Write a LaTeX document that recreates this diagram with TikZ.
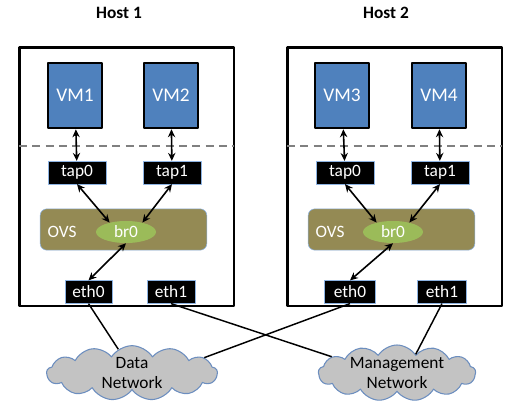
\documentclass[tikz,border=0pt]{standalone}
\usepackage{fontspec}
\setmainfont{Carlito}
\usetikzlibrary{shapes.geometric,shapes.symbols,arrows.meta}

\definecolor{vmblue}{HTML}{4F81BD}
\definecolor{ovsolive}{HTML}{948A54}
\definecolor{brgreen}{HTML}{9BBB59}
\definecolor{cloudgray}{HTML}{C3C3C3}
\definecolor{cloudblue}{HTML}{6C8EBF}
\definecolor{edgeblue}{HTML}{8DB3E2}

\tikzset{
  hostbox/.style={draw, line width=2pt, minimum width=161pt, minimum height=194pt},
  hostlbl/.style={font=\fontsize{13}{15}\selectfont\bfseries},
  vmbox/.style={draw, line width=1.6pt, fill=vmblue, text=white, minimum width=41pt, minimum height=49pt, font=\fontsize{14.5}{16}\selectfont},
  portbox/.style={draw=edgeblue, fill=black, text=white, minimum height=17pt, inner sep=1pt},
  ovsbar/.style={draw=edgeblue, fill=ovsolive, rounded corners=5pt, minimum width=125pt, minimum height=31pt},
  brnode/.style={ellipse, fill=brgreen, text=white, minimum width=45pt, minimum height=16.5pt, inner sep=0pt},
  netcloud/.style={cloud, cloud puffs=13, cloud puff arc=115, cloud ignores aspect, draw=cloudblue, line width=0.8pt, fill=cloudgray, inner sep=0pt},
  dbl/.style={{Stealth[length=6pt,width=5.5pt]}-{Stealth[length=6pt,width=5.5pt]}, line width=1.2pt},
  sep/.style={dashed, dash pattern=on 6pt off 4pt, draw=gray, line width=1.5pt},
  wire/.style={line width=1.1pt}
}

\begin{document}
\begin{tikzpicture}[x=0.75pt, y=-0.75pt, font=\fontsize{13}{15}\selectfont, line join=round]
\useasboundingbox (0,0) rectangle (515,415);

% Host 1
\node[hostlbl] (h1lbl) at (119,13) {Host 1};
\node[hostbox] (h1) at (126.5,176.5) {};
\node[vmbox] (vm1) at (75,95.5) {VM1};
\node[vmbox] (vm2) at (171,95.5) {VM2};
\draw[sep] (19,146) -- (234,146);
\node[portbox, minimum width=43.5pt] (h1tap0) at (77,172.5) {tap0};
\node[portbox, minimum width=43.5pt] (h1tap1) at (172,172.5) {tap1};
\node[ovsbar] (h1ovs) at (123.5,229.5) {};
\node[text=white] (h1ovslbl) at (62,232) {OVS};
\node[brnode] (h1br0) at (126,232) {br0};
\node[portbox, minimum width=35pt] (h1eth0) at (88.5,292) {eth0};
\node[portbox, minimum width=36pt] (h1eth1) at (171,292) {eth1};

% Host 2
\node[hostlbl] (h2lbl) at (386,13) {Host 2};
\node[hostbox] (h2) at (394.5,176.5) {};
\node[vmbox] (vm3) at (342,95.5) {VM3};
\node[vmbox] (vm4) at (439,95.5) {VM4};
\draw[sep] (287,146) -- (502,146);
\node[portbox, minimum width=43.5pt] (h2tap0) at (345,172.5) {tap0};
\node[portbox, minimum width=43.5pt] (h2tap1) at (440,172.5) {tap1};
\node[ovsbar] (h2ovs) at (391.5,229.5) {};
\node[text=white] (h2ovslbl) at (330,232) {OVS};
\node[brnode] (h2br0) at (393,232) {br0};
\node[portbox, minimum width=38pt] (h2eth0) at (350,292) {eth0};
\node[portbox, minimum width=37pt] (h2eth1) at (442,292) {eth1};

% Networks
\node[netcloud, minimum width=128pt, minimum height=41pt] (data) at (132,373) {};
\node[align=center] (datalbl) at (132,373) {Data\\Network};
\node[netcloud, minimum width=118pt, minimum height=42pt] (mgmt) at (397,373) {};
\node[align=center] (mgmtlbl) at (397,373) {Management\\Network};

% Links inside the hosts
\draw[dbl] (vm1) -- (h1tap0);
\draw[dbl] (vm2) -- (h1tap1);
\draw[dbl] (h1tap0.south) -- (h1br0.150);
\draw[dbl] (h1tap1.south) -- (h1br0.30);
\draw[dbl] (h1br0.south) -- (h1eth0.north);
\draw[dbl] (vm3) -- (h2tap0);
\draw[dbl] (vm4) -- (h2tap1);
\draw[dbl] (h2tap0.south) -- (h2br0.150);
\draw[dbl] (h2tap1.south) -- (h2br0.30);
\draw[dbl] (h2br0.south) -- (h2eth0.north);

% Links to the networks
\draw[wire] (h1eth0.south) -- (data.120);
\draw[wire] (h2eth0.south) -- (data.12);
\draw[wire] (h1eth1.south) -- (mgmt.166);
\draw[wire] (h2eth1.south) -- (mgmt.45);

\end{tikzpicture}
\end{document}
